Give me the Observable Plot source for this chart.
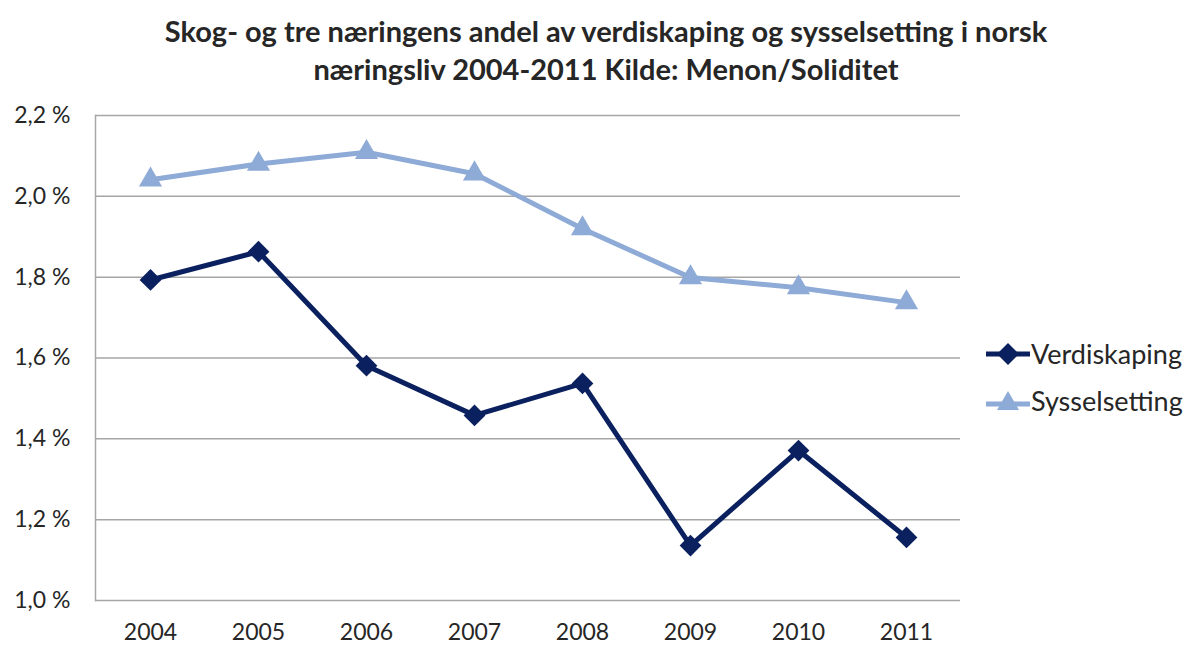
<!DOCTYPE html>
<html>
<head>
<meta charset="utf-8">
<script src="https://cdn.jsdelivr.net/npm/d3@7"></script>
<script src="https://cdn.jsdelivr.net/npm/@observablehq/plot@0.6"></script>
<style>
  html, body { margin: 0; padding: 0; background: #fff; }
  body { width: 1188px; height: 645px; overflow: hidden; font-family: Lato, "Open Sans", sans-serif; color: #262626; }
  #title { position: absolute; left: 0; top: 12px; width: 1212px; text-align: center; font-weight: bold; font-size: 29px; line-height: 38px; color: #262626; }
  #chart { position: absolute; left: 0; top: 90px; }
  #legend { position: absolute; left: 986px; top: 330px; font-size: 27px; color: #262626; }
  .item { display: flex; align-items: center; height: 47px; }
  .item svg { margin-right: 1px; }
</style>
</head>
<body>
<div id="title">Skog- og tre næringens andel av verdiskaping og sysselsetting i norsk<br>næringsliv 2004-2011 Kilde: Menon/Soliditet</div>
<div id="chart"></div>
<div id="legend"></div>
<script>
const years = ["2004","2005","2006","2007","2008","2009","2010","2011"];
const verdiskaping = [1.793, 1.863, 1.581, 1.458, 1.537, 1.136, 1.371, 1.156];
const sysselsetting = [2.041, 2.080, 2.109, 2.056, 1.920, 1.799, 1.774, 1.737];
const yTicks = [1.0, 1.2, 1.4, 1.6, 1.8, 2.0, 2.2];
const seriesNames = ["Verdiskaping", "Sysselsetting"];
const seriesColors = ["#0b215f", "#8eaad6"];
const seriesSymbols = ["diamond2", "triangle"];

const data = [];
years.forEach((y, i) => {
  data.push({year: y, value: verdiskaping[i], series: seriesNames[0]});
  data.push({year: y, value: sysselsetting[i], series: seriesNames[1]});
});
const fmt = d => d.toFixed(1).replace(".", ",") + " %";

const chart = Plot.plot({
  width: 1188,
  height: 555,
  marginLeft: 95,
  marginRight: 228,
  marginTop: 25,
  marginBottom: 45,
  style: {fontFamily: "Lato, 'Open Sans', sans-serif", fontSize: "23px", color: "#262626", background: "#fff"},
  x: {type: "point", domain: years, padding: 0.5, label: null},
  y: {domain: [1.0, 2.2], label: null},
  color: {domain: seriesNames, range: seriesColors},
  symbol: {domain: seriesNames, range: seriesSymbols},
  marks: [
    Plot.ruleY(yTicks, {stroke: "#a6a6a6", strokeWidth: 1.5, strokeOpacity: 1}),
    Plot.frame({anchor: "left", stroke: "#a6a6a6", strokeWidth: 1.5, strokeOpacity: 1}),
    Plot.axisY({ticks: yTicks, tickFormat: fmt, tickSize: 0, tickPadding: 25, label: null, fill: "#262626"}),
    Plot.axisX({tickSize: 0, tickPadding: 23, label: null, fill: "#262626"}),
    Plot.line(data, {x: "year", y: "value", z: "series", stroke: "series", strokeWidth: 5, strokeLinejoin: "round"}),
    Plot.dot(data.filter(d => d.series === seriesNames[0]), {x: "year", y: "value", symbol: "series", fill: "series", r: 9.8, stroke: "none"}),
    Plot.dot(data.filter(d => d.series === seriesNames[1]), {x: "year", y: "value", symbol: "series", fill: "series", r: 8.6, stroke: "none"})
  ]
});
document.getElementById("chart").appendChild(chart);

const legend = document.getElementById("legend");
seriesNames.forEach((name, i) => {
  const item = document.createElement("div");
  item.className = "item";
  const sym = i === 0
    ? `<polygon points="22,0 33,11 22,22 11,11" fill="${seriesColors[i]}"/>`
    : `<polygon points="22,1 33,20 11,20" fill="${seriesColors[i]}"/>`;
  item.innerHTML = `<svg width="44" height="22"><line x1="0" x2="44" y1="${i===0?11:14}" y2="${i===0?11:14}" stroke="${seriesColors[i]}" stroke-width="5"/>${sym}</svg><span>${name}</span>`;
  legend.appendChild(item);
});
</script>
</body>
</html>
